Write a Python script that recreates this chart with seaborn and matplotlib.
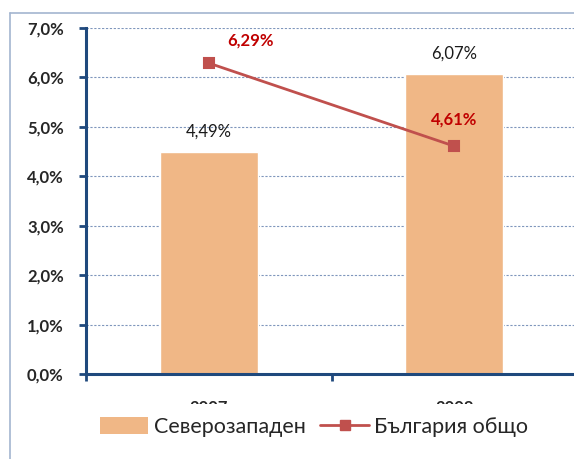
import matplotlib
matplotlib.use('AGG')
import matplotlib.pyplot as plt
from matplotlib.patches import Rectangle, Patch
from matplotlib.lines import Line2D
from matplotlib.ticker import FixedLocator
import seaborn as sns
import pandas as pd

years = ['2007', '2008']
severozapaden = [4.49, 6.07]
bulgaria = [6.29, 4.61]
series_names = ['Северозападен', 'България общо']
y_ticks = [0, 1, 2, 3, 4, 5, 6, 7]

BAR_COLOR = '#F0B786'
LINE_COLOR = '#C0504D'
LABEL_RED = '#C00000'
AXIS_BLUE = '#1F497D'

sns.set_style('white')
plt.rcParams['font.family'] = ['Lato', 'DejaVu Sans']

fig = plt.figure(figsize=(5.74, 4.59), dpi=100)
ax = fig.add_axes([86 / 574, 85 / 459, 491 / 574, 346 / 459])

df = pd.DataFrame({'year': years, 'nw': severozapaden, 'bg': bulgaria})

sns.barplot(data=df, x='year', y='nw', color=BAR_COLOR, saturation=1,
            width=0.4, ax=ax, zorder=2)
sns.pointplot(data=df, x='year', y='bg', color=LINE_COLOR, markers='s',
              markersize=6.5, linewidth=2, ax=ax, zorder=3)

ax.set_xlim(-0.5, 1.5)
ax.set_ylim(0, 7)
ax.set_xlabel('')
ax.set_ylabel('')

# grid
for v in y_ticks[1:]:
    ax.axhline(v, color='#7F96BC', lw=0.8, ls=(0, (2, 1.5)), zorder=1)

# labels on bars and line
for i, v in enumerate(severozapaden):
    ax.text(i, v + 0.25, f'{v:.2f}%'.replace('.', ','), ha='center',
            va='bottom', fontsize=12, color='#1a1a1a', zorder=4)
for i, v in enumerate(bulgaria):
    dx = 0.17 if i == 0 else 0.0
    dy = 0.3 if i == 0 else 0.38
    ax.text(i + dx, v + dy, f'{v:.2f}%'.replace('.', ','), ha='center',
            va='bottom', fontsize=12, color=LABEL_RED, fontweight='bold', zorder=4)

# axes styling
for s in ['top', 'right']:
    ax.spines[s].set_visible(False)
for s in ['left', 'bottom']:
    ax.spines[s].set_color(AXIS_BLUE)
    ax.spines[s].set_linewidth(2.2)
    ax.spines[s].set_zorder(5)

ax.set_yticks(y_ticks, [f'{v:.1f}%'.replace('.', ',') for v in y_ticks],
              fontweight='bold', fontsize=12)
ax.tick_params(axis='y', direction='out', length=5, width=2, color=AXIS_BLUE,
               pad=11, left=True)

ax.set_xticks([0, 1], years, fontweight='bold', fontsize=12)
ax.xaxis.set_minor_locator(FixedLocator([-0.5, 0.5, 1.5]))
ax.tick_params(axis='x', which='minor', direction='out', length=5, width=2,
               color=AXIS_BLUE, bottom=True)
ax.tick_params(axis='x', which='major', length=0, pad=19)

# cover the lower part (x tick labels are cut off in the original)
fig.patches.append(Rectangle((12 / 574, 0), 1, 55 / 459, transform=fig.transFigure,
                             facecolor='white', edgecolor='none', zorder=10))

# chart frame
fig.add_artist(Line2D([10 / 574, 10 / 574], [0, 1 - 13 / 459], transform=fig.transFigure,
                      color='#A3B5CF', lw=1.2, zorder=11))
fig.add_artist(Line2D([10 / 574, 1], [1 - 13 / 459, 1 - 13 / 459], transform=fig.transFigure,
                      color='#A3B5CF', lw=1.2, zorder=11))

handles = [Patch(facecolor=BAR_COLOR, edgecolor='none'),
           Line2D([], [], color=LINE_COLOR, lw=2, marker='s', markersize=6.5)]
leg = fig.legend(handles, series_names, loc='center', bbox_to_anchor=(0.547, 1 - 427 / 459),
                 ncol=2, frameon=False, fontsize=15.5, handlelength=2.25,
                 handleheight=0.8, handletextpad=0.25, columnspacing=0.7)
leg.set_zorder(12)

fig.savefig('out.png', dpi=100)
